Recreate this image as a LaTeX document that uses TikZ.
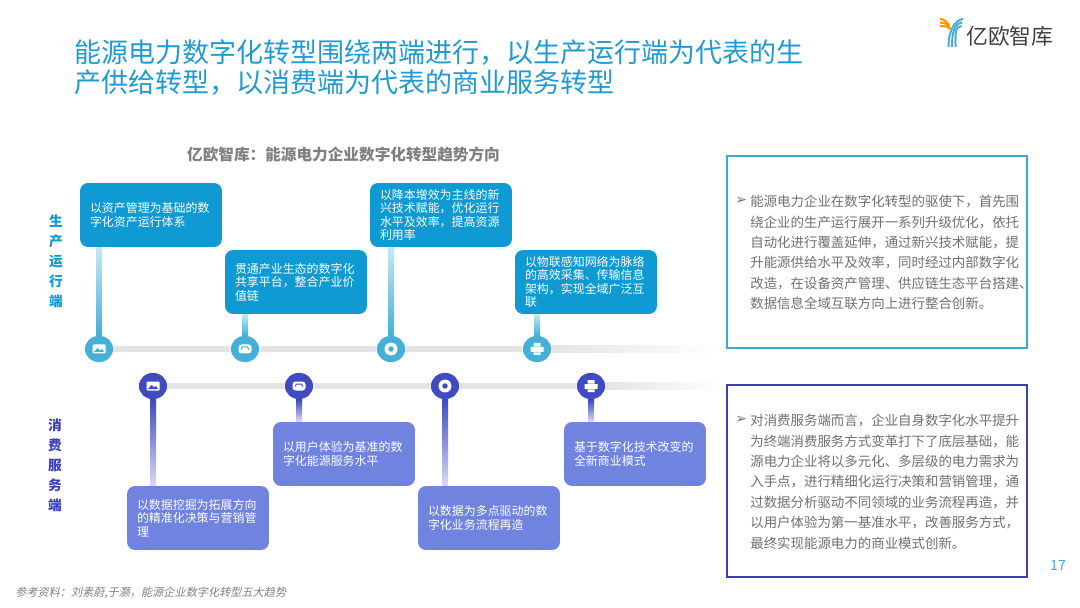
\documentclass[tikz,border=0pt]{standalone}
\usepackage{fontspec}
\setmainfont{Noto Sans CJK SC}
\newfontfamily\slantcjk[FakeSlant=0.2]{Noto Sans CJK SC}
\newfontfamily\symfont{DejaVu Sans}
\usepackage{xcolor}
\usetikzlibrary{%
  positioning,
  shapes.geometric
}
\definecolor{upblue}{HTML}{0F9AD3}
\definecolor{upmark}{HTML}{45AFD8}
\definecolor{lowblue}{HTML}{6F83DF}
\definecolor{lowmark}{HTML}{3F4BBF}
\definecolor{frameup}{HTML}{3AA9D3}
\definecolor{framelow}{HTML}{3A3FB5}
\definecolor{headblue}{HTML}{1F9BD1}
\definecolor{track}{HTML}{E4E4E4}
\definecolor{bodygray}{HTML}{707070}
\tikzset{
  trendbox/.style={rounded corners=.16cm,minimum width=2.84cm,minimum height=1.28cm,
    text width=2.44cm,inner xsep=.2cm,inner ysep=0pt,align=left,text=white,
    font=\fontsize{6.8pt}{7.65pt}\selectfont},
  dot/.style={ellipse,minimum width=.58cm,minimum height=.54cm,inner sep=0pt,draw=white,line width=.3pt},
  framebox/.style={draw,line width=.055cm,minimum width=6cm,minimum height=3.84cm,fill=white},
  sidelabel/.style={font=\fontsize{7.8pt}{11.4pt}\bfseries\selectfont,align=center},
  bodytext/.style={anchor=north west,text=bodygray,inner sep=0pt,align=left,
    font=\fontsize{7.65pt}{11.6pt}\selectfont},
  bullet/.style={anchor=west,inner sep=0pt,text=bodygray,font=\symfont\fontsize{8pt}{9pt}\selectfont}
}
\begin{document}
\begin{tikzpicture}[x=0.02cm,y=-0.02cm]
  \useasboundingbox (0,0) rectangle (1080,608);
  % heading
  \node[anchor=north west,inner sep=0pt,align=left,text=headblue,
    font=\fontsize{15.36pt}{17pt}\selectfont] (head) at (74,39)
    {能源电力数字化转型围绕两端进行，以生产运行端为代表的生\\产供给转型，以消费端为代表的商业服务转型};
  \node[text=gray,font=\fontsize{8.9pt}{10pt}\bfseries\selectfont] (subhead) at (343.5,155)
    {亿欧智库：能源电力企业数字化转型趋势方向};
  % logo
  \foreach \d [count=\i] in {0,3.5,7} {
    \draw[orange!85!yellow,line width=.04cm] (940,19+\d) .. controls (945,19.5+\d) and (948,22+\d*.5) .. (950-\d*.1,29);
    \draw[upmark,line width=.04cm] (963-\d*.2,19+\d) .. controls (955,20+\d) and (948.5+\d,30) .. (948.5+\d,47);
  }
  \node[anchor=west,inner sep=0pt,text=black!75,font=\fontsize{12.4pt}{14pt}\selectfont] (logo) at (966,36) {亿欧智库};
  % tracks
  \coordinate (upend) at (720,349);
  \coordinate (lowend) at (720,386);
  \def\icpic(#1)#2{
    \fill[white,shift={(#1)},rounded corners=.02cm] (-6.5,-4.5) rectangle (6.5,4.5);
    \fill[#2,shift={(#1)}] (-5,3) -- (-1.5,-1) -- (1,1.5) -- (3,0) -- (5,3) -- cycle;
  }
  \def\icsofa(#1)#2{
    \fill[white,shift={(#1)},rounded corners=.06cm] (-6.5,-4.5) rectangle (6.5,4.5);
    \draw[#2,shift={(#1)},line width=.02cm] (-4,.5) -- (-2.5,-2) -- (2.5,-2) -- (4,.5);
  }
  \def\icring(#1)#2{
    \fill[white,shift={(#1)}] (0,0) circle (.13cm);
    \fill[#2,shift={(#1)}] (0,0) circle (.055cm);
  }
  \def\icprint(#1)#2{
    \fill[white,shift={(#1)}] (-3.5,-6) rectangle (3.5,-2.5) (-6.5,-2) rectangle (6.5,3) (-3.5,3.5) rectangle (3.5,6);
  }
  % upper row
  \foreach \x/\xb/\yb/\ic/\txt [count=\i] in {
    99/151/215/\icpic/{以资产管理为基础的数\\字化资产运行体系},
    245/296/282/\icsofa/{贯通产业生态的数字化\\共享平台，整合产业价\\值链},
    391/441/215/\icring/{以降本增效为主线的新\\兴技术赋能，优化运行\\水平及效率，提高资源\\利用率},
    537/586/282/\icprint/{以物联感知网络为脉络\\的高效采集、传输信息\\架构，实现全域广泛互\\联}} {
    \node[trendbox,fill=upblue] (upbox\i) at (\xb,\yb) {\txt};
    \node[dot,fill=upmark] (upmk\i) at (\x,349) {};
    \shade[top color=upmark!30!white,bottom color=upmark] ([xshift=-.06cm]upmk\i.north) rectangle ([xshift=.06cm]upmk\i.north |- upbox\i.south);
    \ic(upmk\i){upmark}
  }
  \foreach \i/\j in {1/2,2/3,3/4} {
    \fill[track] ([yshift=.07cm]upmk\i.east) rectangle ([yshift=-.07cm]upmk\j.west);
  }
  \shade[left color=track,right color=white] ([yshift=.07cm]upmk4.east) rectangle ([yshift=-.07cm]upend);
  % lower row
  \foreach \x/\xb/\yb/\ic/\txt [count=\i] in {
    153/198/518/\icpic/{以数据挖掘为拓展方向\\的精准化决策与营销管\\理},
    299/344/454/\icsofa/{以用户体验为基准的数\\字化能源服务水平},
    445/489/518/\icring/{以数据为多点驱动的数\\字化业务流程再造},
    591/635/454/\icprint/{基于数字化技术改变的\\全新商业模式}} {
    \node[trendbox,fill=lowblue] (lowbox\i) at (\xb,\yb) {\txt};
    \node[dot,fill=lowmark] (lowmk\i) at (\x,386) {};
    \shade[top color=lowmark,bottom color=lowmark!20!white] ([xshift=-.06cm]lowmk\i.south) rectangle ([xshift=.06cm]lowmk\i.south |- lowbox\i.north);
    \ic(lowmk\i){lowmark}
  }
  \foreach \i/\j in {1/2,2/3,3/4} {
    \fill[track] ([yshift=.07cm]lowmk\i.east) rectangle ([yshift=-.07cm]lowmk\j.west);
  }
  \shade[left color=track,right color=white] ([yshift=.07cm]lowmk4.east) rectangle ([yshift=-.07cm]lowend);
  % side labels
  \node[sidelabel,text=upblue] (uplabel) at (56,261) {生\\产\\运\\行\\端};
  \node[sidelabel,text=framelow] (lowlabel) at (55,465) {消\\费\\服\\务\\端};
  % text frames
  \node[framebox,draw=frameup] (upframe) at (877,252) {};
  \node[framebox,draw=framelow] (lowframe) at (877,481) {};
  \node[bullet] (upbullet) at (735,201) {➢};
  \node[bullet] (lowbullet) at (735,420) {➢};
  \node[bodytext] (uptext) at (750,195) {能源电力企业在数字化转型的驱使下，首先围\\绕企业的生产运行展开一系列升级优化，依托\\自动化进行覆盖延伸，通过新兴技术赋能，提\\升能源供给水平及效率，同时经过内部数字化\\改造，在设备资产管理、供应链生态平台搭建、\\数据信息全域互联方向上进行整合创新。};
  \node[bodytext] (lowtext) at (750,414) {对消费服务端而言，企业自身数字化水平提升\\为终端消费服务方式变革打下了底层基础，能\\源电力企业将以多元化、多层级的电力需求为\\入手点，进行精细化运行决策和营销管理，通\\过数据分析驱动不同领域的业务流程再造，并\\以用户体验为第一基准水平，改善服务方式，\\最终实现能源电力的商业模式创新。};
  % footer
  \node[anchor=west,inner sep=0pt,text=gray,font=\slantcjk\fontsize{6.35pt}{7pt}\selectfont] (source) at (15,593) {参考资料：刘素蔚,于灏，能源企业数字化转型五大趋势};
  \node[text=frameup,inner sep=0pt,font=\fontsize{8pt}{9pt}\selectfont] (pageno) at (1058,565) {17};
\end{tikzpicture}
\end{document}
